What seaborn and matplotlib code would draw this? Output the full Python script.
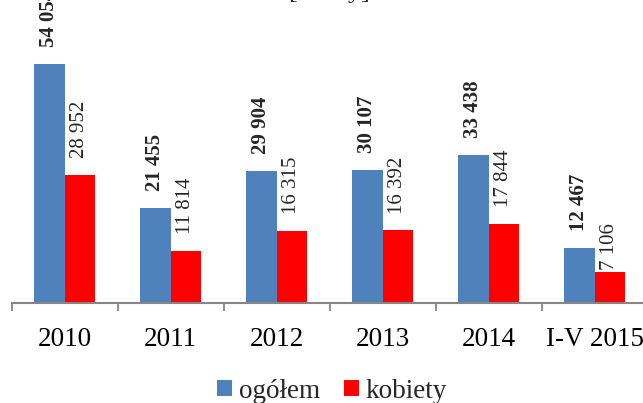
import numpy as np
import pandas as pd
import seaborn as sns
import matplotlib.pyplot as plt
from matplotlib.ticker import FixedLocator

# data
years = ['2010', '2011', '2012', '2013', '2014', 'I-V 2015']
ogolem = [54054, 21455, 29904, 30107, 33438, 12467]
kobiety = [28952, 11814, 16315, 16392, 17844, 7106]
series = ['ogółem', 'kobiety']
colors = ['#4F81BD', '#FF0000']

df = pd.DataFrame({
    'rok': years * 2,
    'seria': [series[0]] * len(years) + [series[1]] * len(years),
    'osoby': ogolem + kobiety,
})

sns.set_theme(style='white')
plt.rcParams['font.family'] = ['Liberation Serif', 'DejaVu Serif']

fig = plt.figure(figsize=(6.43, 4.03), dpi=100)
ax = fig.add_axes([11.7 / 643, 100 / 403, 636 / 643, 303 / 403])

sns.barplot(data=df, x='rok', y='osoby', hue='seria', palette=colors,
            width=0.575, gap=0, saturation=1, legend=False, linewidth=0,
            ax=ax)

ax.set_ylim(0, 68500)
ax.set_xlim(-0.5, len(years) - 0.5)
ax.set_xlabel('')
ax.set_ylabel('')
ax.set_yticks([])
for s in ['top', 'left', 'right']:
    ax.spines[s].set_visible(False)
ax.spines['bottom'].set_color('#868686')
ax.spines['bottom'].set_linewidth(1.5)

ax.tick_params(axis='x', which='major', length=0, pad=17, labelsize=19.5,
               labelcolor='black')
ax.xaxis.set_minor_locator(FixedLocator(np.arange(-0.5, len(years), 1)))
ax.tick_params(axis='x', which='minor', length=6, width=1.3,
               color='#868686', direction='out', bottom=True)

fmt = lambda v: f'{int(v):,}'.replace(',', ' ')
lab0 = ax.bar_label(ax.containers[0], labels=[fmt(v) for v in ogolem],
                    rotation=90, padding=12, fontsize=15, fontweight='bold')
lab1 = ax.bar_label(ax.containers[1], labels=[fmt(v) for v in kobiety],
                    rotation=90, padding=12, fontsize=15)
lab1[-1].set_position((0, 1))

fig.text(329 / 643, 1 + 2 / 403, '[osoby]', ha='center', va='baseline',
         fontsize=19)

handles = [ax.containers[0][0], ax.containers[1][0]]
fig.legend(handles, series, loc='center', bbox_to_anchor=(332 / 643, 1 - 391 / 403),
           ncol=2, frameon=False, fontsize=19.5, handlelength=0.55,
           handleheight=0.55, handletextpad=0.25, columnspacing=0.9,
           borderaxespad=0, borderpad=0)

fig.savefig('out.png', dpi=100)
